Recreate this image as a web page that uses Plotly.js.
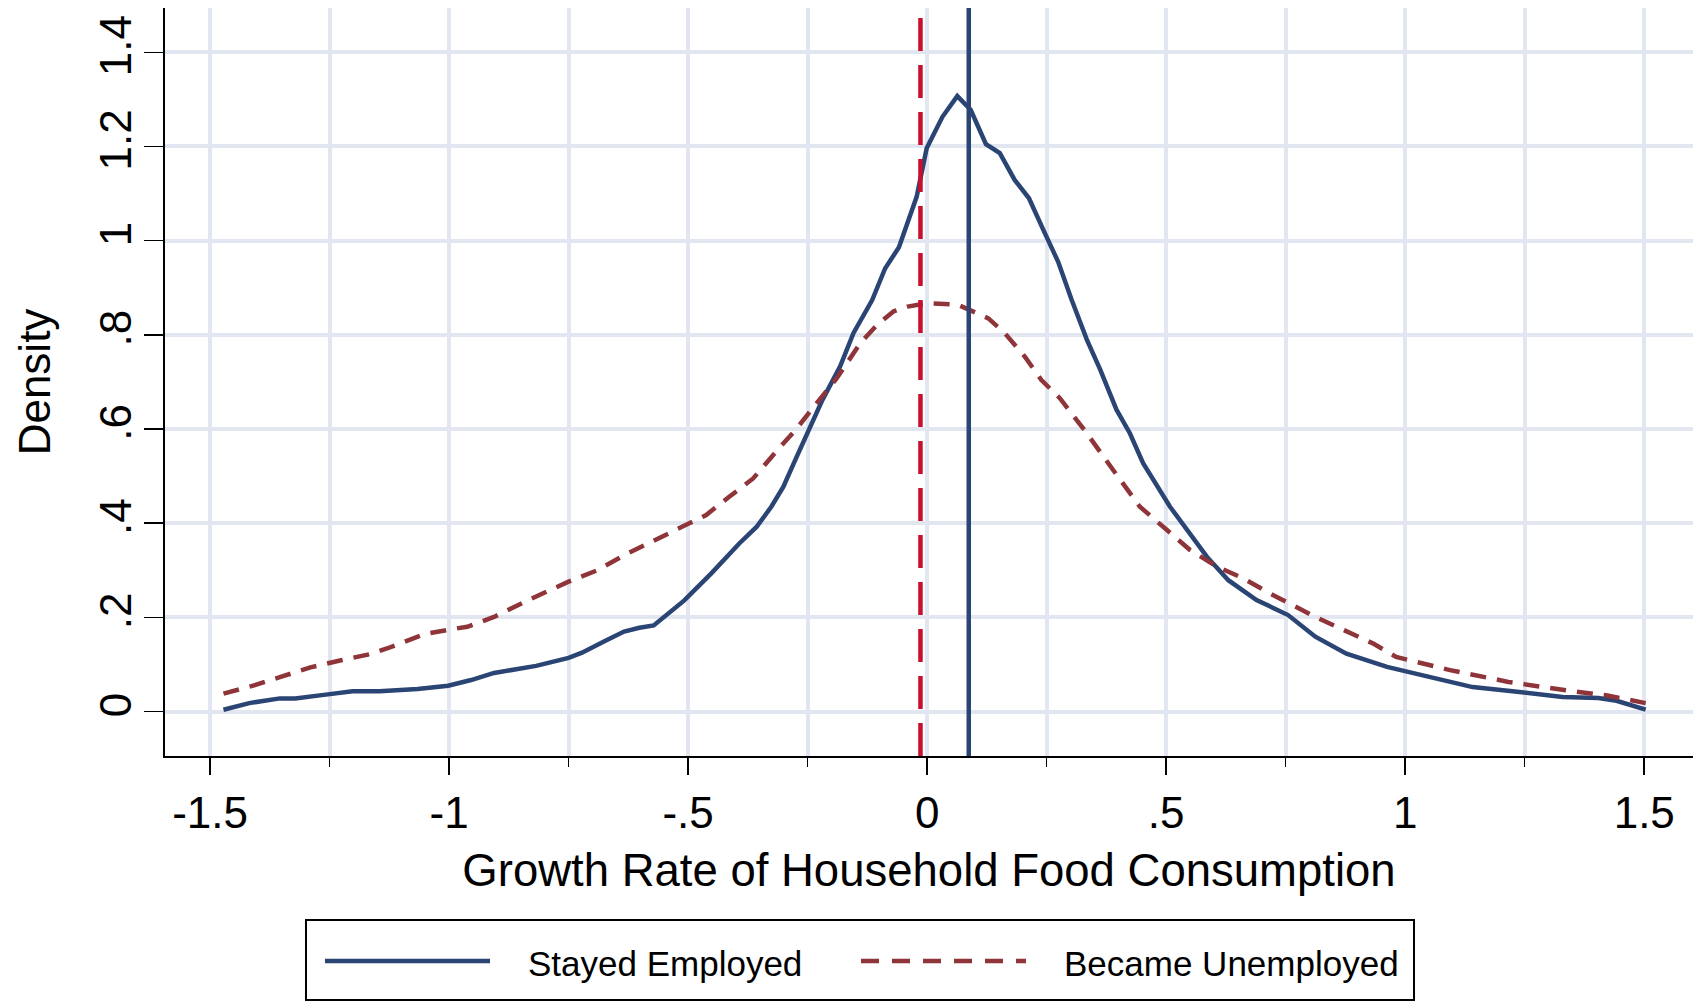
<!DOCTYPE html>
<html>
<head>
<meta charset="utf-8">
<script src="https://cdn.plot.ly/plotly-3.0.1.min.js"></script>
<style>
html,body{margin:0;padding:0;background:#ffffff;}
#chart{width:1706px;height:1002px;}
</style>
</head>
<body>
<div id="chart"></div>
<script>
// ---- data ----
const seriesNames = ["Stayed Employed", "Became Unemployed"];

const employedX = [-1.472, -1.418, -1.354, -1.322, -1.258, -1.202, -1.146, -1.066, -1.002, -0.954,
  -0.906, -0.818, -0.750, -0.722, -0.674, -0.634, -0.602, -0.572, -0.508, -0.452,
  -0.393, -0.357, -0.326, -0.301, -0.273, -0.248, -0.219, -0.182, -0.154, -0.115,
  -0.088, -0.059, -0.022, -0.001, 0.032, 0.063, 0.091, 0.123, 0.152, 0.183,
  0.213, 0.243, 0.274, 0.302, 0.334, 0.362, 0.396, 0.424, 0.452, 0.508,
  0.543, 0.585, 0.630, 0.689, 0.755, 0.812, 0.877, 0.962, 1.037, 1.141,
  1.244, 1.329, 1.404, 1.442, 1.503];
const employedY = [0.004, 0.018, 0.028, 0.028, 0.036, 0.043, 0.043, 0.048, 0.055, 0.067,
  0.082, 0.097, 0.114, 0.125, 0.150, 0.170, 0.178, 0.183, 0.236, 0.293,
  0.357, 0.392, 0.435, 0.477, 0.541, 0.598, 0.662, 0.733, 0.804, 0.874,
  0.941, 0.986, 1.093, 1.196, 1.263, 1.307, 1.278, 1.205, 1.186, 1.129,
  1.090, 1.023, 0.955, 0.875, 0.790, 0.726, 0.641, 0.591, 0.527, 0.435,
  0.386, 0.329, 0.279, 0.237, 0.205, 0.159, 0.123, 0.095, 0.077, 0.052,
  0.041, 0.031, 0.029, 0.023, 0.004];

const unemployedX = [-1.472, -1.410, -1.354, -1.290, -1.226, -1.170, -1.130, -1.050, -0.994, -0.962,
  -0.906, -0.834, -0.750, -0.690, -0.634, -0.579, -0.519, -0.463, -0.414, -0.364,
  -0.322, -0.273, -0.231, -0.189, -0.140, -0.105, -0.070, -0.041, 0.001, 0.064,
  0.128, 0.162, 0.204, 0.239, 0.278, 0.334, 0.389, 0.445, 0.501, 0.550,
  0.606, 0.661, 0.717, 0.812, 0.934, 0.981, 1.094, 1.216, 1.338, 1.423, 1.503];
const unemployedY = [0.038, 0.055, 0.073, 0.094, 0.109, 0.121, 0.134, 0.165, 0.175, 0.180,
  0.201, 0.237, 0.276, 0.300, 0.332, 0.360, 0.389, 0.417, 0.456, 0.495,
  0.545, 0.601, 0.655, 0.708, 0.782, 0.821, 0.850, 0.860, 0.867, 0.864,
  0.835, 0.804, 0.754, 0.704, 0.665, 0.591, 0.513, 0.435, 0.386, 0.343,
  0.308, 0.283, 0.251, 0.201, 0.144, 0.116, 0.088, 0.063, 0.045, 0.034, 0.018];

// group means drawn as vertical reference lines: [Became Unemployed, Stayed Employed]
const meanValues = [-0.014, 0.087];

const xTickVals = [-1.5, -1, -0.5, 0, 0.5, 1, 1.5];
const xTickText = ["-1.5", "-1", "-.5", "0", ".5", "1", "1.5"];
const yTickVals = [0, 0.2, 0.4, 0.6, 0.8, 1, 1.2, 1.4];
const yTickText = ["0", ".2", ".4", ".6", ".8", "1", "1.2", "1.4"];
const xTitle = "Growth Rate of Household Food Consumption";
const yTitle = "Density";

// ---- styling / layout ----
const W = 1706, H = 1002;
const M = {l: 165, r: 13, t: 8, b: 246};
const plotW = W - M.l - M.r, plotH = H - M.t - M.b;
const pxX = v => (v - M.l) / plotW;
const pxY = v => (H - M.b - v) / plotH;

const BLUE = "#2a4574";
const MAROON = "#8f3439";
const CRIMSON = "#c8102e";
const GRID = "#e1e6f0";
const FONT = "Liberation Sans, Arial, Helvetica, sans-serif";

const traces = [
  {x: employedX, y: employedY, name: seriesNames[0], type: "scatter", mode: "lines",
   line: {color: BLUE, width: 4.5}, showlegend: false, hoverinfo: "x+y"},
  {x: unemployedX, y: unemployedY, name: seriesNames[1], type: "scatter", mode: "lines",
   line: {color: MAROON, width: 4.5, dash: "16px,11px"}, showlegend: false, hoverinfo: "x+y"}
];

const shapes = [
  {type: "line", xref: "x", yref: "paper", x0: meanValues[0], x1: meanValues[0], y0: 0, y1: 1,
   line: {color: CRIMSON, width: 4.5, dash: "33px,14px"}},
  {type: "line", xref: "x", yref: "paper", x0: meanValues[1], x1: meanValues[1], y0: 0, y1: 1,
   line: {color: BLUE, width: 4.5}},
  // legend box
  {type: "rect", xref: "paper", yref: "paper", x0: pxX(306), x1: pxX(1414), y0: pxY(1000), y1: pxY(920),
   line: {color: "#000000", width: 2}, fillcolor: "rgba(0,0,0,0)"},
  {type: "line", xref: "paper", yref: "paper", x0: pxX(325), x1: pxX(490), y0: pxY(961), y1: pxY(961),
   line: {color: BLUE, width: 4.5}},
  {type: "line", xref: "paper", yref: "paper", x0: pxX(861), x1: pxX(1026), y0: pxY(961), y1: pxY(961),
   line: {color: MAROON, width: 4.5, dash: "18px,13px"}}
];

const annotations = [
  {xref: "paper", yref: "paper", x: pxX(526), y: pxY(963), xanchor: "left", yanchor: "middle",
   text: seriesNames[0], showarrow: false, font: {family: FONT, size: 35, color: "#000"}},
  {xref: "paper", yref: "paper", x: pxX(1062), y: pxY(963), xanchor: "left", yanchor: "middle",
   text: seriesNames[1], showarrow: false, font: {family: FONT, size: 35, color: "#000"}}
];

const layout = {
  width: W, height: H,
  margin: M,
  paper_bgcolor: "#ffffff", plot_bgcolor: "#ffffff",
  font: {family: FONT, color: "#000000"},
  showlegend: false,
  xaxis: {
    range: [-1.5943, 1.602], autorange: false,
    tickmode: "array", tickvals: xTickVals, ticktext: xTickText,
    ticks: "outside", ticklen: 17, tickwidth: 1.5, tickcolor: "#000",
    tickfont: {family: FONT, size: 44, color: "#000"},
    showgrid: true, gridcolor: GRID, gridwidth: 4,
    minor: {dtick: 0.25, tick0: 0, ticks: "outside", ticklen: 9, tickwidth: 1.5, tickcolor: "#000",
            showgrid: true, gridcolor: GRID, gridwidth: 4},
    zeroline: false,
    showline: true, linecolor: "#000", linewidth: 2, mirror: false,
    title: {text: xTitle, font: {family: FONT, size: 45.5, color: "#000"}, standoff: 18},
    automargin: false
  },
  yaxis: {
    range: [-0.0943, 1.494], autorange: false,
    tickmode: "array", tickvals: yTickVals, ticktext: yTickText,
    ticks: "outside", ticklen: 19, tickwidth: 1.5, tickcolor: "#000",
    tickangle: -90, ticklabelstandoff: -5,
    tickfont: {family: FONT, size: 44, color: "#000"},
    showgrid: true, gridcolor: GRID, gridwidth: 4,
    zeroline: false,
    showline: true, linecolor: "#000", linewidth: 2, mirror: false,
    title: {text: yTitle, font: {family: FONT, size: 44, color: "#000"}, standoff: 27},
    automargin: false
  },
  shapes: shapes,
  annotations: annotations
};

Plotly.newPlot("chart", traces, layout, {displayModeBar: false, staticPlot: true});
</script>
</body>
</html>
